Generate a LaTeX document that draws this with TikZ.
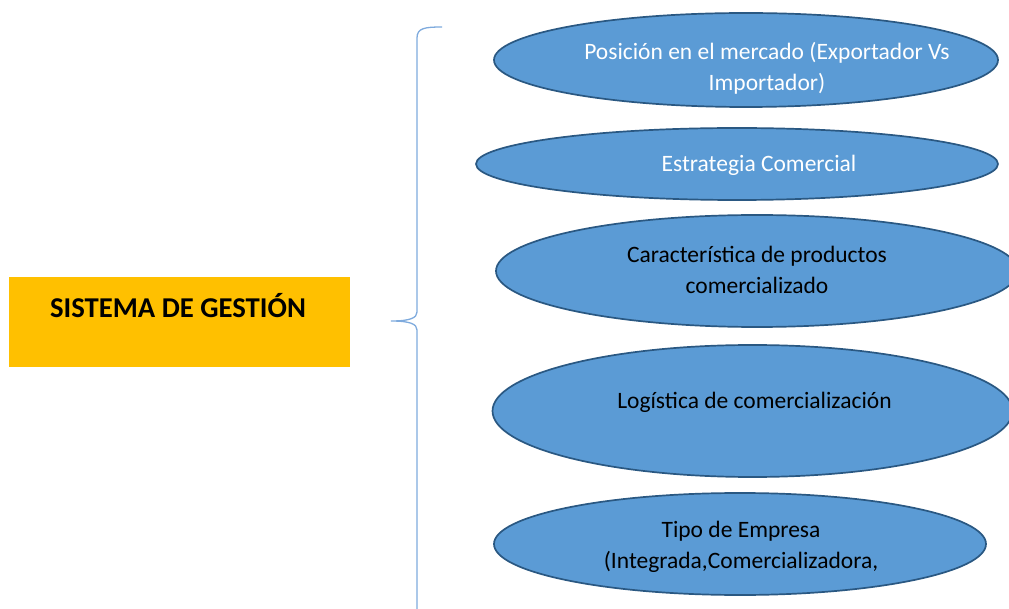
\documentclass[tikz,border=0pt]{standalone}
\usepackage{fontspec}
\setmainfont{Carlito}
\usetikzlibrary{shapes.geometric}
\definecolor{ellfill}{HTML}{5B9BD5}
\definecolor{elldraw}{HTML}{2A5882}
\definecolor{bracecol}{HTML}{7EAADD}
\definecolor{titlefill}{HTML}{FFC000}
\tikzset{
  oval/.style={ellipse, draw=elldraw, fill=ellfill, line width=1.7pt, inner sep=0pt},
  ovaltext/.style={align=center, font=\fontsize{23.5}{31}\selectfont, inner sep=0pt},
  bracestyle/.style={draw=bracecol, line width=1.3pt},
}
\begin{document}
\begin{tikzpicture}[x=1pt,y=-1pt]
\useasboundingbox (0,0) rectangle (1009,609);
\clip (0,0) rectangle (1009,609);
% title box
\node[fill=titlefill, minimum width=341pt, minimum height=90pt, inner sep=0pt] (box) at (179.5,322) {};
\node[font=\fontsize{28.7}{34}\selectfont\bfseries, inner sep=0pt] (title) at (178,306) {SISTEMA DE GESTIÓN};
% brace
\coordinate (btop) at (442,27);
\coordinate (btip) at (391,321);
\coordinate (bbot) at (417,640);
\draw[bracestyle] (btop) .. controls (425,27) and (417,28) .. (417,38) -- (417,312)
  .. controls (417,318) and (410,321) .. (btip)
  .. controls (410,321) and (417,324) .. (417,330) -- (bbot);
% ellipses
\node[oval, minimum width=504pt, minimum height=94pt] (e1) at (746,60) {};
\node[ovaltext, text=white] (t1) at (767,68) {Posición en el mercado (Exportador Vs\\Importador)};
\node[oval, minimum width=522pt, minimum height=72pt] (e2) at (737,164) {};
\node[ovaltext, text=white] (t2) at (759,165.5) {Estrategia Comercial};
\node[oval, minimum width=522pt, minimum height=112pt] (e3) at (757,271) {};
\node[ovaltext] (t3) at (757,270) {Característica de productos\\comercializado};
\node[oval, minimum width=520pt, minimum height=132pt] (e4) at (752.5,411) {};
\node[ovaltext] (t4) at (754.5,402.5) {Logística de comercialización};
\node[oval, minimum width=492pt, minimum height=102pt] (e5) at (740,544) {};
\node[ovaltext] (t5) at (741,547) {Tipo de Empresa\\(Integrada,Comercializadora,};
\end{tikzpicture}
\end{document}
